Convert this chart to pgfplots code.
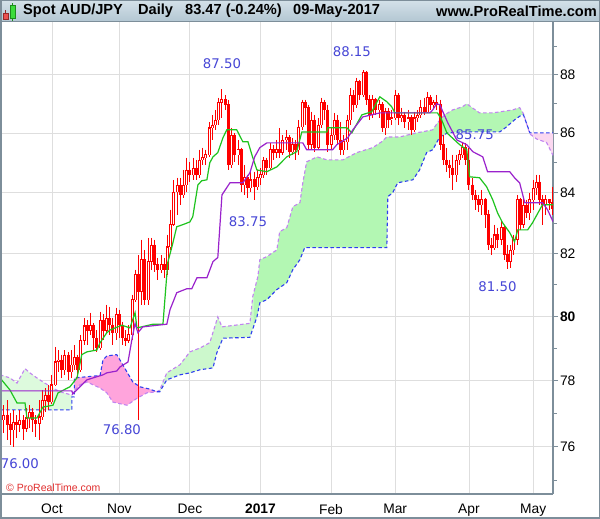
\documentclass[border=0pt]{standalone}
\usepackage{fontspec}
\setmainfont{Liberation Sans}
\newfontfamily\lblfont{DejaVu Sans}
\usepackage{pgfplots}
\usepackage{pgfplotstable}
\pgfplotsset{compat=1.18}

\definecolor{candle}{HTML}{FF0000}
\definecolor{tenkan}{HTML}{1EC31E}
\definecolor{kijun}{HTML}{9A22CC}
\definecolor{spanA}{HTML}{C184F0}
\definecolor{spanB}{HTML}{2E3EF0}
\definecolor{cloudG}{HTML}{B3F7B3}
\definecolor{cloudGl}{HTML}{CCF8CC}
\definecolor{cloudGp}{HTML}{DDFADD}
\definecolor{cloudP}{HTML}{FFA4DC}
\definecolor{cloudPl}{HTML}{FBD8F0}
\definecolor{lbl}{HTML}{4646D6}
\definecolor{gridc}{HTML}{DEDEDE}
\definecolor{axisc}{HTML}{7D8E9A}
\definecolor{headtop}{HTML}{D4E1E9}
\definecolor{headbot}{HTML}{B2C6D2}
\definecolor{copyc}{HTML}{E12D2D}
\definecolor{icr}{HTML}{962828}
\definecolor{icrf}{HTML}{EB5050}
\definecolor{icg}{HTML}{1E8C1E}
\definecolor{icgf}{HTML}{3CDC3C}

% daily candles: day index (0 = 3 Oct 2016), open, high, low, close
\pgfplotstableread{
d o h l c
-15 76.81 77.26 76.41 76.96
-14 76.96 77.41 76.20 76.66
-13 76.66 77.02 76.05 76.50
-12 76.50 77.11 76.00 76.75
-11 76.75 76.96 76.26 76.66
-10 76.66 77.11 76.44 76.81
-9 76.81 76.96 76.20 76.56
-8 76.56 77.17 76.44 76.87
-7 76.87 77.26 76.56 77.05
-6 77.05 77.17 76.44 76.81
-5 76.81 76.96 76.29 76.69
-4 76.69 77.41 76.20 76.90
-3 76.90 77.72 76.81 77.41
-2 77.41 77.78 77.05 77.57
-1 77.57 77.88 77.11 77.35
0 77.35 78.19 77.30 77.88
1 77.88 79.05 77.85 78.59
2 78.59 78.96 78.28 78.65
3 78.65 78.81 78.09 78.34
4 78.34 78.96 78.19 78.81
5 78.81 78.90 78.03 78.28
6 78.28 78.96 78.09 78.50
7 78.50 79.12 78.34 78.74
8 78.74 78.81 78.09 78.34
9 78.34 79.43 78.28 79.27
10 79.27 79.96 79.12 79.71
11 79.71 79.90 79.12 79.58
12 79.58 80.12 79.43 79.74
13 79.74 79.80 78.96 79.33
14 79.33 79.58 78.90 79.02
15 79.02 80.15 78.96 79.90
16 79.90 80.06 79.27 79.58
17 79.58 80.37 79.49 79.96
18 79.96 80.31 79.43 79.74
19 79.74 79.96 79.12 79.49
20 79.49 80.28 79.27 80.06
21 80.06 80.21 79.33 79.74
22 79.74 79.85 79.12 79.33
23 79.33 79.58 79.08 79.27
24 79.27 79.74 79.18 79.43
25 79.43 80.69 79.27 80.53
26 80.53 81.49 80.45 81.33
27 81.33 81.97 76.80 80.79
28 80.79 82.46 80.37 81.81
29 81.81 82.13 80.37 80.53
30 80.53 82.52 80.37 81.75
31 81.75 82.52 81.49 82.29
32 82.29 82.46 81.43 81.65
33 81.65 81.88 81.17 81.49
34 81.49 81.97 81.39 81.65
35 81.65 81.88 81.23 81.49
36 81.49 82.62 81.33 82.23
37 82.23 83.44 82.13 82.95
38 82.95 84.43 82.90 84.03
39 84.03 84.50 83.28 84.26
40 84.26 84.50 83.60 83.93
41 83.93 84.76 83.84 84.26
42 84.26 85.17 84.03 84.76
43 84.76 85.03 84.36 84.60
44 84.60 85.17 84.43 84.83
45 84.83 85.10 84.43 84.60
46 84.60 85.44 84.50 85.10
47 85.10 85.51 84.93 85.17
48 85.17 85.44 84.93 85.27
49 85.27 86.38 85.20 86.18
50 86.18 86.62 85.77 86.28
51 86.28 86.79 86.11 86.45
52 86.45 87.21 86.28 87.04
53 87.04 87.50 86.52 87.14
54 87.14 87.31 86.79 86.97
55 86.97 87.14 84.76 84.93
56 84.93 86.18 84.83 85.94
57 85.94 86.00 85.03 85.27
58 85.27 85.77 84.93 85.44
59 85.44 85.51 84.03 84.26
60 84.26 84.93 83.93 84.50
61 84.50 84.60 83.84 84.16
62 84.16 84.76 84.03 84.43
63 84.43 84.70 83.75 84.20
64 84.20 84.76 84.10 84.50
65 84.50 84.83 84.26 84.60
66 84.60 85.20 84.50 85.10
67 85.10 85.17 84.60 84.83
68 84.83 85.67 84.76 85.44
69 85.44 85.61 85.10 85.34
70 85.34 85.77 85.17 85.44
71 85.44 86.18 85.17 85.34
72 85.34 85.94 85.27 85.77
73 85.77 86.11 85.44 85.87
74 85.87 85.94 85.17 85.37
75 85.37 85.84 85.27 85.61
76 85.61 85.77 85.10 85.44
77 85.44 86.45 85.27 86.21
78 86.21 87.14 86.11 87.04
79 87.04 87.14 86.28 86.87
80 86.87 86.97 85.44 85.61
81 85.61 86.73 85.44 86.45
82 86.45 86.62 85.37 85.51
83 85.51 86.52 85.44 86.28
84 86.28 87.21 86.18 87.04
85 87.04 87.14 86.45 86.79
86 86.79 86.97 85.37 85.61
87 85.61 86.21 85.44 85.94
88 85.94 86.69 85.77 86.45
89 86.45 86.62 85.61 85.77
90 85.77 86.38 85.27 85.44
91 85.44 85.94 85.27 85.71
92 85.71 86.62 85.44 86.45
93 86.45 87.55 86.28 87.31
94 87.31 87.48 86.73 86.97
95 86.97 87.90 86.87 87.76
96 87.76 87.83 87.14 87.31
97 87.31 88.15 87.25 88.10
98 88.10 88.12 86.97 87.14
99 87.14 87.31 86.45 86.62
100 86.62 87.31 86.52 87.14
101 87.14 87.21 86.62 86.79
102 86.79 87.14 86.52 86.97
103 86.97 87.05 86.04 86.18
104 86.18 86.87 85.94 86.73
105 86.73 86.87 86.18 86.45
106 86.45 86.79 86.28 86.52
107 86.52 87.48 86.45 87.31
108 87.31 87.38 86.28 86.52
109 86.52 86.87 86.38 86.62
110 86.62 86.73 86.18 86.38
111 86.38 86.79 86.11 86.52
112 86.52 86.62 85.94 86.11
113 86.11 86.73 86.05 86.52
114 86.52 86.79 86.38 86.62
115 86.62 87.14 86.52 86.87
116 86.87 87.21 86.62 86.73
117 86.73 87.41 86.69 87.21
118 87.21 87.31 86.79 86.97
119 86.97 87.14 86.87 87.04
120 87.04 87.31 86.79 86.97
121 86.97 87.14 85.44 85.61
122 85.61 85.94 84.93 85.10
123 85.10 85.51 84.70 84.93
124 84.93 85.10 84.50 84.83
125 84.83 85.27 84.10 84.60
126 84.60 85.27 84.36 85.10
127 85.10 85.44 84.93 85.27
128 85.27 85.67 85.17 85.51
129 85.51 85.67 84.93 85.10
130 85.10 85.51 84.10 84.26
131 84.26 84.50 83.77 83.93
132 83.93 84.10 83.44 83.77
133 83.77 83.93 83.37 83.60
134 83.60 84.10 83.28 83.77
135 83.77 83.84 82.85 83.28
136 83.28 83.44 82.13 82.29
137 82.29 82.52 81.97 82.20
138 82.20 82.95 82.13 82.62
139 82.62 82.85 82.20 82.46
140 82.46 83.11 82.29 82.85
141 82.85 82.95 81.81 81.97
142 81.97 82.29 81.50 81.75
143 81.75 82.29 81.55 82.13
144 82.13 82.62 81.97 82.46
145 82.46 83.93 82.29 83.77
146 83.77 83.84 82.78 82.95
147 82.95 83.84 82.85 83.60
148 83.60 83.77 83.18 83.34
149 83.34 84.00 83.11 83.77
150 83.77 84.43 83.44 84.16
151 84.16 84.60 83.93 84.36
152 84.36 84.60 83.60 83.77
153 83.77 83.93 82.95 83.60
154 83.60 83.93 83.28 83.77
155 83.77 83.80 83.44 83.67
156 83.67 84.20 83.28 83.47
}\candles

\begin{document}
\begin{tikzpicture}[x=1pt,y=1pt]
\useasboundingbox (0,-25) rectangle (600,494);
\fill[white] (0,-25) rectangle (600,494);
\begin{axis}[
  at={(0,0)}, anchor=south west,
  scale only axis, width=553pt, height=472pt,
  xmin=-16.2, xmax=156.2,
  ymode=log, ymin=74.6, ymax=89.86,
  axis x line*=bottom, axis y line*=right,
  axis line style={draw=axisc, line width=1.5pt},
  xtick={0,21,43,65,87,107,130,150},
  xticklabels={Oct,Nov,Dec,\textbf{2017},Feb,Mar,Apr,May},
  ytick={76,78,80,82,84,86,88},
  yticklabels={76,78,\textbf{80},82,84,86,88},
  minor ytick={75,77,79,81,83,85,87,89},
  xmajorgrids, ymajorgrids,
  grid style={draw=gridc, line width=0.9pt},
  tick align=outside, major tick length=5pt, minor tick length=3.5pt,
  xtick style={draw=none},
  ytick style={draw=axisc, line width=0.9pt},
  minor tick style={draw=axisc, line width=0.9pt},
  ticklabel style={font=\fontsize{13.8}{15}\selectfont},
  yticklabel style={xshift=-1.5pt},
  xticklabel style={yshift=-2pt},
  /pgf/number format/assume math mode=true,
]
% cloud areas (span A forward, span B back)
\addplot[fill=cloudGp, draw=none] coordinates {
(-16.2,78.19) (-13.1,78.09) (-10.9,77.94) (-8.4,78.37) (-6.9,78.25) (-4.7,78.09)
(-2.8,77.97) (0.3,77.78) (2.5,77.66) (6.2,77.57) (6.2,77.11) (-16.2,77.11)};
\addplot[fill=cloudP, draw=none] coordinates {
(7.0,78.09) (15.0,78.16) (15.9,78.65) (17.1,78.77) (20.2,78.81) (21.2,78.65)
(25.2,77.97) (27.4,77.82) (30.5,77.75) (32.7,77.66)
(29.6,77.63) (26.5,77.47) (23.4,77.26) (19.0,77.35) (17.1,77.63) (15.0,77.78)
(10.9,77.97) (8.7,77.88) (7.2,77.72) (7.0,77.70)};
\addplot[fill=cloudGl, draw=none] coordinates {
(32.7,77.66) (33.6,77.72) (35.8,78.25) (39.9,78.50) (43.0,78.90) (46.1,79.02)
(49.2,79.18) (51.7,79.99) (53.0,79.68) (61.7,79.80) (62.6,80.63) (62.8,80.71)
(62.8,79.68) (61.7,79.36) (53.3,79.33) (51.4,78.87) (50.2,78.40) (46.1,78.34)
(43.0,78.25) (39.9,78.19) (35.8,78.03) (33.6,77.66)};
\addplot[fill=cloudG, draw=none] coordinates {
(62.8,80.71) (64.2,81.27) (64.8,81.81) (67.0,81.91) (70.1,82.13) (71.0,82.72)
(73.2,82.85) (75.1,83.54) (77.3,83.67) (78.2,84.33) (79.4,85.03) (82.6,85.20)
(85.7,85.10) (90.7,85.10) (95.0,85.34) (100.0,85.51) (102.8,85.71) (104.4,85.87)
(108.4,85.87) (113.7,86.01) (118.7,86.11) (120.2,86.35) (122.4,86.62) (124.9,86.79)
(128.0,86.90) (129.3,87.00) (133.3,86.69) (137.4,86.69) (143.6,86.79) (145.8,86.87)
(147.0,86.66) (148.0,86.31)
(147.0,86.62) (146.4,86.62) (144.2,86.45) (141.7,86.21) (139.6,86.04) (128.0,86.04)
(123.4,86.01) (120.9,85.87) (118.7,85.44) (116.8,85.34) (114.6,84.76) (112.5,84.43)
(107.8,84.33) (106.2,84.00) (104.7,83.87) (104.4,82.20) (78.8,82.20) (77.3,81.81)
(75.1,81.49) (73.2,81.07) (70.1,80.85) (67.0,80.53) (64.8,80.43) (63.9,79.99)
(62.8,79.68)};
\addplot[fill=cloudPl, draw=none] coordinates {
(148.0,86.31) (149.0,86.01) (156.2,86.01)
(156.2,85.25) (154.2,85.68) (151.1,85.80) (149.0,85.97)};
% cloud edges
\addplot[spanA, line width=1.1pt, dash pattern=on 3.5pt off 2.5pt] coordinates {
(-16.2,78.19) (-13.1,78.09) (-10.9,77.94) (-8.4,78.37) (-6.9,78.25) (-4.7,78.09)
(-2.8,77.97) (0.3,77.78) (2.5,77.66) (6.2,77.57) (7.2,77.72) (8.7,77.88) (10.9,77.97)
(15.0,77.78) (17.1,77.63) (19.0,77.35) (23.4,77.26) (26.5,77.47) (29.6,77.63)
(32.7,77.66) (33.6,77.72) (35.8,78.25) (39.9,78.50) (43.0,78.90) (46.1,79.02)
(49.2,79.18) (51.7,79.99) (53.0,79.68) (61.7,79.80) (62.6,80.63) (64.2,81.27)
(64.8,81.81) (67.0,81.91) (70.1,82.13) (71.0,82.72) (73.2,82.85) (75.1,83.54)
(77.3,83.67) (78.2,84.33) (79.4,85.03) (82.6,85.20) (85.7,85.10) (90.7,85.10)
(95.0,85.34) (100.0,85.51) (102.8,85.71) (104.4,85.87) (108.4,85.87) (113.7,86.01)
(118.7,86.11) (120.2,86.35) (122.4,86.62) (124.9,86.79) (128.0,86.90) (129.3,87.00)
(133.3,86.69) (137.4,86.69) (143.6,86.79) (145.8,86.87) (147.0,86.66) (149.0,85.97)
(151.1,85.80) (154.2,85.68) (156.2,85.25)};
\addplot[spanB, line width=1.1pt, dash pattern=on 3.5pt off 2.5pt] coordinates {
(-16.2,77.11) (6.2,77.11) (6.2,77.51) (7.0,77.51) (7.0,78.09) (15.0,78.16) (15.9,78.65)
(17.1,78.77) (20.2,78.81) (21.2,78.65) (25.2,77.97) (27.4,77.82) (30.5,77.75)
(32.7,77.66) (33.6,77.66) (35.8,78.03) (39.9,78.19) (43.0,78.25) (46.1,78.34)
(50.2,78.40) (51.4,78.87) (53.3,79.33) (61.7,79.36) (63.9,79.99) (64.8,80.43)
(67.0,80.53) (70.1,80.85) (73.2,81.07) (75.1,81.49) (77.3,81.81) (78.8,82.20)
(104.4,82.20) (104.7,83.87) (106.2,84.00) (107.8,84.33) (112.5,84.43) (114.6,84.76)
(116.8,85.34) (118.7,85.44) (120.9,85.87) (123.4,86.01) (128.0,86.04) (139.6,86.04)
(141.7,86.21) (144.2,86.45) (146.4,86.62) (147.0,86.62) (149.0,86.01) (156.2,86.01)};

% candles: wicks, bodies, hollow centre of up days
\addplot[draw=none, mark=none, error bars/.cd, y dir=minus, y explicit, error mark=none,
  error bar style={draw=candle, line width=1pt}]
  table[x=d, y=h, y error minus expr={\thisrow{h}-\thisrow{l}}] {\candles};
\addplot[draw=none, mark=none, error bars/.cd, y dir=minus, y explicit, error mark=none,
  error bar style={draw=candle, line width=3pt}]
  table[x=d, y expr={max(\thisrow{o},\thisrow{c})+0.01},
        y error minus expr={abs(\thisrow{c}-\thisrow{o})+0.02}] {\candles};
\addplot[draw=none, mark=none, error bars/.cd, y dir=minus, y explicit, error mark=none,
  error bar style={draw=white, line width=1.05pt}]
  table[x=d, y expr={\thisrow{c}-0.025},
        y error minus expr={max(\thisrow{c}-\thisrow{o}-0.03,0)}] {\candles};

% conversion and base lines
\addplot[tenkan, line width=1.2pt] coordinates {
(-16.2,78.09) (-13.1,77.72) (-10.9,77.32) (-8.4,77.32) (-7.8,76.87) (-4.7,76.87)
(-2.8,77.20) (0.3,77.26) (1.9,77.63) (5.6,77.82) (7.8,78.09) (9.3,78.81) (10.9,78.90)
(14.0,78.96) (15.0,79.18) (17.1,79.49) (18.1,79.58) (21.8,79.74) (24.3,79.65)
(25.9,80.12) (26.5,79.65) (31.5,79.77) (34.6,79.77) (36.1,81.72) (37.4,82.23)
(38.9,82.88) (40.8,82.95) (43.0,83.04) (43.9,83.21) (45.5,84.26) (46.7,84.40)
(48.3,84.43) (49.2,85.00) (50.2,85.20) (51.7,85.34) (53.3,85.84) (54.5,86.11)
(57.6,86.11) (59.5,85.71) (61.1,85.71) (62.6,85.17) (63.9,84.76) (67.0,84.70)
(70.1,84.86) (73.2,85.20) (76.3,85.37) (77.9,86.04) (85.7,86.04) (86.0,86.18)
(91.9,86.18) (93.5,86.01) (96.6,86.62) (99.7,86.73) (102.2,87.24) (104.4,87.07)
(105.9,86.90) (106.9,86.69) (120.2,86.69) (121.5,86.45) (123.1,86.01) (127.1,85.61)
(129.3,85.44) (130.2,84.53) (133.3,84.50) (135.5,84.20) (137.4,83.77) (138.9,83.34)
(140.5,83.01) (142.7,82.69) (144.2,82.39) (145.2,82.78) (148.3,82.78) (149.8,83.01)
(152.9,83.60) (156.2,83.60)};
\addplot[kijun, line width=1.2pt] coordinates {
(-16.2,77.69) (6.2,77.69) (6.5,77.60) (8.7,77.82) (10.9,78.03) (15.9,78.19)
(17.1,78.25) (20.2,78.31) (21.2,78.43) (23.7,78.59) (24.9,79.27) (25.9,79.80)
(26.8,79.49) (28.3,79.68) (35.8,79.77) (36.8,80.21) (38.9,80.75) (42.1,80.88)
(43.6,80.88) (45.2,81.23) (48.3,81.23) (50.2,81.75) (51.7,81.88) (53.0,83.93)
(55.5,84.33) (59.5,84.33) (61.7,84.66) (63.2,85.20) (64.8,85.51) (67.0,85.67)
(78.2,85.67) (79.4,85.44) (87.5,85.44) (88.8,85.61) (92.2,85.84) (93.8,86.11)
(96.9,86.55) (102.2,86.69) (117.8,86.69) (118.7,86.79) (119.9,87.00) (120.9,86.97)
(123.4,86.35) (126.2,85.77) (129.3,85.61) (131.2,85.37) (134.3,85.20) (135.8,84.70)
(142.7,84.70) (144.2,84.50) (145.8,84.33) (147.4,83.67) (152.9,83.67) (154.5,83.44)
(156.2,83.05)};

% level annotations
\begin{scope}[every node/.style={text=lbl, font=\lblfont\fontsize{13.3}{14}\selectfont, inner sep=0pt}]
\node at (axis cs:53.0,88.38) {87.50};
\node at (axis cs:93.5,88.80) {88.15};
\node at (axis cs:61.1,83.04) {83.75};
\node at (axis cs:131.8,85.94) {85.75};
\node at (axis cs:138.9,80.95) {81.50};
\node at (axis cs:21.8,76.53) {76.80};
\node at (axis cs:-10.0,75.48) {76.00};
\end{scope}
\end{axis}

\node[anchor=west, inner sep=0pt, text=copyc,
  font=\fontsize{10.5}{12}\selectfont] at (6,6) {© ProRealTime.com};

% header bar
\shade[top color=headtop, bottom color=headbot] (0,472) rectangle (600,494);
\draw[axisc, line width=1pt] (0,472) -- (600,472);
\draw[icr, line width=0.8pt] (5.7,473.5) -- (5.7,484);
\draw[icr, fill=icrf, line width=0.6pt] (3.5,474.5) rectangle (8,481);
\draw[icg, line width=0.8pt] (12.5,473) -- (12.5,491);
\draw[icg, fill=icgf, line width=0.6pt] (10,476) rectangle (15,489);
\begin{scope}[every node/.style={anchor=west, inner sep=0pt, font=\fontsize{14.6}{16}\selectfont\bfseries}]
\node at (23,483) {Spot AUD/JPY};
\node at (138,483) {Daily};
\node at (185,483) {83.47 (-0.24\%)};
\node at (293,483) {09-May-2017};
\node[anchor=east] at (597,483) {www.ProRealTime.com};
\end{scope}
\draw[axisc, line width=1.5pt] (0.75,-24.25) rectangle (599.25,493.25);
\end{tikzpicture}
\end{document}
